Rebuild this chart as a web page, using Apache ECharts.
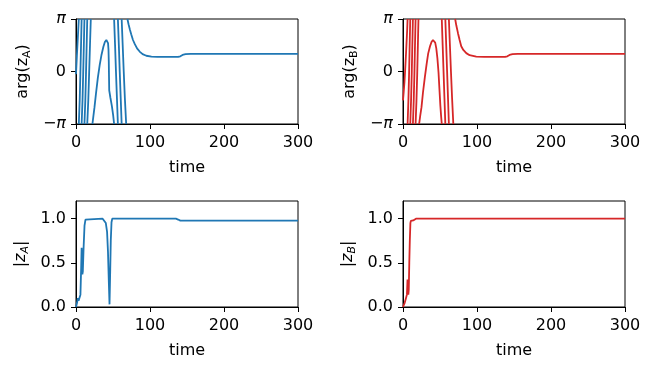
<!DOCTYPE html>
<html>
<head>
<meta charset="utf-8">
<script src="https://cdn.jsdelivr.net/npm/echarts@6.0.0/dist/echarts.min.js"></script>
<style>
  html, body { margin: 0; padding: 0; background: #fff; }
  #chart { width: 654px; height: 371px; }
</style>
</head>
<body>
<div id="chart"></div>
<script>
// 断点（相位从 π 跳到 -π 时断开折线）
const GAP = ['-', '-'];

// 时间轴
const timeTicks = [0, 100, 200, 300];

// arg(z_A)，单位 π
const argA = [
  [0, -0.05], [1.2, 0.3], [2.5, 0.65], [3.8, 1], GAP,
  [3.8, -1], [5.0, -0.55], [5.9, -0.05], [6.8, 0.5], [7.6, 1], GAP,
  [7.6, -1], [8.8, -0.55], [9.7, -0.05], [10.6, 0.5], [11.4, 1], GAP,
  [11.4, -1], [12.6, -0.55], [13.5, -0.05], [14.4, 0.5], [15.2, 1], GAP,
  [15.2, -1], [16.6, -0.55], [17.7, -0.05], [18.9, 0.5], [20, 1], GAP,
  [22.2, -1], [23.5, -0.85], [25, -0.68], [27, -0.42], [29.5, -0.12], [32, 0.12],
  [34.5, 0.32], [37, 0.47], [39, 0.56], [41, 0.6], [42.3, 0.59], [43.3, 0.54],
  [43.9, 0.42], [44.3, 0.2], [44.6, -0.1], [44.9, -0.36], [46.5, -0.5],
  [48.5, -0.66], [50.2, -0.83], [51.5, -1], GAP,
  [51.5, 1], [52.8, 0.5], [54, 0], [55.3, -0.5], [56.6, -1], GAP,
  [56.6, 1], [57.9, 0.5], [59.1, 0], [60.4, -0.5], [61.7, -1], GAP,
  [61.7, 1], [63.1, 0.5], [64.5, 0], [66, -0.5], [67.8, -1], GAP,
  [69.5, 1], [71, 0.9], [72.8, 0.8], [74.6, 0.71], [77, 0.6], [79.5, 0.52],
  [82.5, 0.44], [86, 0.38], [90, 0.33], [95, 0.3], [102, 0.285], [110, 0.28],
  [125, 0.278], [138, 0.28], [141, 0.29], [144, 0.315], [148, 0.33], [155, 0.335],
  [200, 0.335], [300, 0.335]
];

// arg(z_B)，单位 π
const argB = [
  [0, -0.55], [1, -0.38], [2, -0.2], [3, 0.05], [4, 0.32], [4.8, 0.55], [5.6, 0.78], [6.2, 1], GAP,
  [6.2, -1], [7.3, -0.55], [8.2, -0.05], [9, 0.5], [9.8, 1], GAP,
  [9.8, -1], [10.9, -0.55], [11.8, -0.05], [12.6, 0.5], [13.4, 1], GAP,
  [13.4, -1], [14.5, -0.55], [15.4, -0.05], [16.2, 0.5], [17, 1], GAP,
  [17, -1], [18.2, -0.55], [19.2, -0.05], [20.1, 0.5], [20.9, 1], GAP,
  [21.8, -1], [23.2, -0.85], [25, -0.68], [27, -0.4], [29.5, -0.11], [32, 0.15],
  [34, 0.34], [36.5, 0.48], [38.5, 0.56], [40.5, 0.6], [42, 0.6], [43.5, 0.55],
  [45, 0.44], [46.5, 0.25], [48, -0.02], [49.3, -0.35], [50.5, -0.65],
  [51.5, -0.85], [52.4, -1], GAP,
  [52.4, 1], [53.6, 0.5], [54.8, 0], [56, -0.5], [57.2, -1], GAP,
  [57.2, 1], [58.4, 0.5], [59.6, 0], [60.8, -0.5], [62, -1], GAP,
  [62, 1], [63.4, 0.5], [64.8, 0], [66.3, -0.5], [68, -1], GAP,
  [70.5, 1], [72, 0.88], [74.3, 0.73], [76.5, 0.6], [78.7, 0.48], [81.5, 0.41],
  [85.5, 0.35], [90, 0.31], [99, 0.285], [110, 0.28], [138, 0.28], [141, 0.29],
  [144, 0.315], [148, 0.33], [155, 0.335], [300, 0.335]
];

// |z_A|
const magA = [
  [0, 0], [1.5, 0.05], [2.4, 0.1], [3.5, 0.07], [4.7, 0.06], [6, 0.14], [7, 0.45],
  [7.6, 0.67], [8.1, 0.55], [8.6, 0.37], [9.2, 0.4], [10.3, 0.68], [11.5, 0.92],
  [12.8, 0.99], [14, 1.0], [36, 1.0], [38.5, 0.99], [40.3, 0.95], [42, 0.85],
  [43.2, 0.63], [44.3, 0.3], [45.3, 0.03], [46.2, 0.4], [47, 0.75], [48, 0.96],
  [49, 1.0], [135, 1.0], [138, 0.99], [141, 0.978], [300, 0.978]
];

// |z_B|
const magB = [
  [0, 0], [1, 0.01], [2.4, 0.05], [4, 0.1], [5.3, 0.14], [6.1, 0.31], [6.6, 0.22],
  [7.2, 0.14], [7.8, 0.2], [8.5, 0.5], [9.2, 0.75], [10, 0.95], [10.6, 0.975],
  [13.8, 0.98], [16, 0.99], [17.5, 1.0], [300, 1.0]
];

const argTicks = [-1, 0, 1];
const magTicks = [0, 0.5, 1.0];

const BLUE = '#1f77b4';
const RED = '#d62728';
const FONT = 'DejaVu Sans';

const chart = echarts.init(document.getElementById('chart'));

const grids = [
  { left: 76, top: 19, width: 222, height: 105 },
  { left: 403, top: 19, width: 222, height: 105 },
  { left: 76, top: 201, width: 222, height: 106 },
  { left: 403, top: 201, width: 222, height: 106 }
].map(g => Object.assign({ show: true, borderColor: '#000', borderWidth: 1 }, g));

function xAxis(i) {
  return {
    type: 'value', gridIndex: i, min: 0, max: 300, interval: 100,
    name: 'time', nameLocation: 'middle', nameGap: 36,
    nameTextStyle: { color: '#000', fontFamily: FONT, fontSize: 16 },
    axisLine: { onZero: false, lineStyle: { color: '#000', width: 1 } },
    axisTick: { length: 5, lineStyle: { color: '#000' }, customValues: timeTicks },
    axisLabel: { color: '#000', fontFamily: FONT, fontSize: 16, margin: 11, customValues: timeTicks },
    splitLine: { show: false }
  };
}

const nameRich = {
  n: { fontFamily: FONT, fontSize: 16, color: '#000', lineHeight: 20 },
  i: { fontFamily: FONT, fontSize: 16, color: '#000', fontStyle: 'italic', lineHeight: 20 },
  s: { fontFamily: FONT, fontSize: 11, color: '#000', lineHeight: 8, verticalAlign: 'bottom' },
  si: { fontFamily: FONT, fontSize: 11, color: '#000', fontStyle: 'italic', lineHeight: 8, verticalAlign: 'bottom' }
};

function argAxis(i, label) {
  return {
    type: 'value', gridIndex: i, min: -1, max: 1, interval: 1,
    name: '{n|arg(z}{s|' + label + '}{n|)}', nameLocation: 'middle', nameGap: 43,
    nameTextStyle: { rich: nameRich },
    axisLine: { onZero: false, lineStyle: { color: '#000', width: 1 } },
    axisTick: { length: 5, lineStyle: { color: '#000' }, customValues: argTicks },
    axisLabel: {
      color: '#000', fontFamily: FONT, fontSize: 16, margin: 10, customValues: argTicks,
      formatter: v => v === 1 ? '{p|π}' : (v === -1 ? '−{p|π}' : '0'),
      rich: { p: { fontFamily: FONT, fontSize: 16, fontStyle: 'italic', color: '#000' } }
    },
    splitLine: { show: false }
  };
}

function magAxis(i, label) {
  return {
    type: 'value', gridIndex: i, min: 0, max: 1.2,
    name: '{n||}{i|z}{si|' + label + '}{n||}', nameLocation: 'middle', nameGap: 45,
    nameTextStyle: { rich: nameRich },
    axisLine: { onZero: false, lineStyle: { color: '#000', width: 1 } },
    axisTick: { length: 5, lineStyle: { color: '#000' }, customValues: magTicks },
    axisLabel: {
      color: '#000', fontFamily: FONT, fontSize: 16, margin: 10, customValues: magTicks,
      formatter: v => v.toFixed(1)
    },
    splitLine: { show: false }
  };
}

function line(i, data, color) {
  return {
    type: 'line', xAxisIndex: i, yAxisIndex: i, data: data,
    showSymbol: false, symbol: 'none', connectNulls: false, animation: false,
    lineStyle: { color: color, width: 1.8 }, itemStyle: { color: color }
  };
}

chart.setOption({
  backgroundColor: '#fff',
  animation: false,
  grid: grids,
  xAxis: [xAxis(0), xAxis(1), xAxis(2), xAxis(3)],
  yAxis: [argAxis(0, 'A'), argAxis(1, 'B'), magAxis(2, 'A'), magAxis(3, 'B')],
  series: [
    line(0, argA, BLUE),
    line(1, argB, RED),
    line(2, magA, BLUE),
    line(3, magB, RED)
  ]
});
</script>
</body>
</html>
